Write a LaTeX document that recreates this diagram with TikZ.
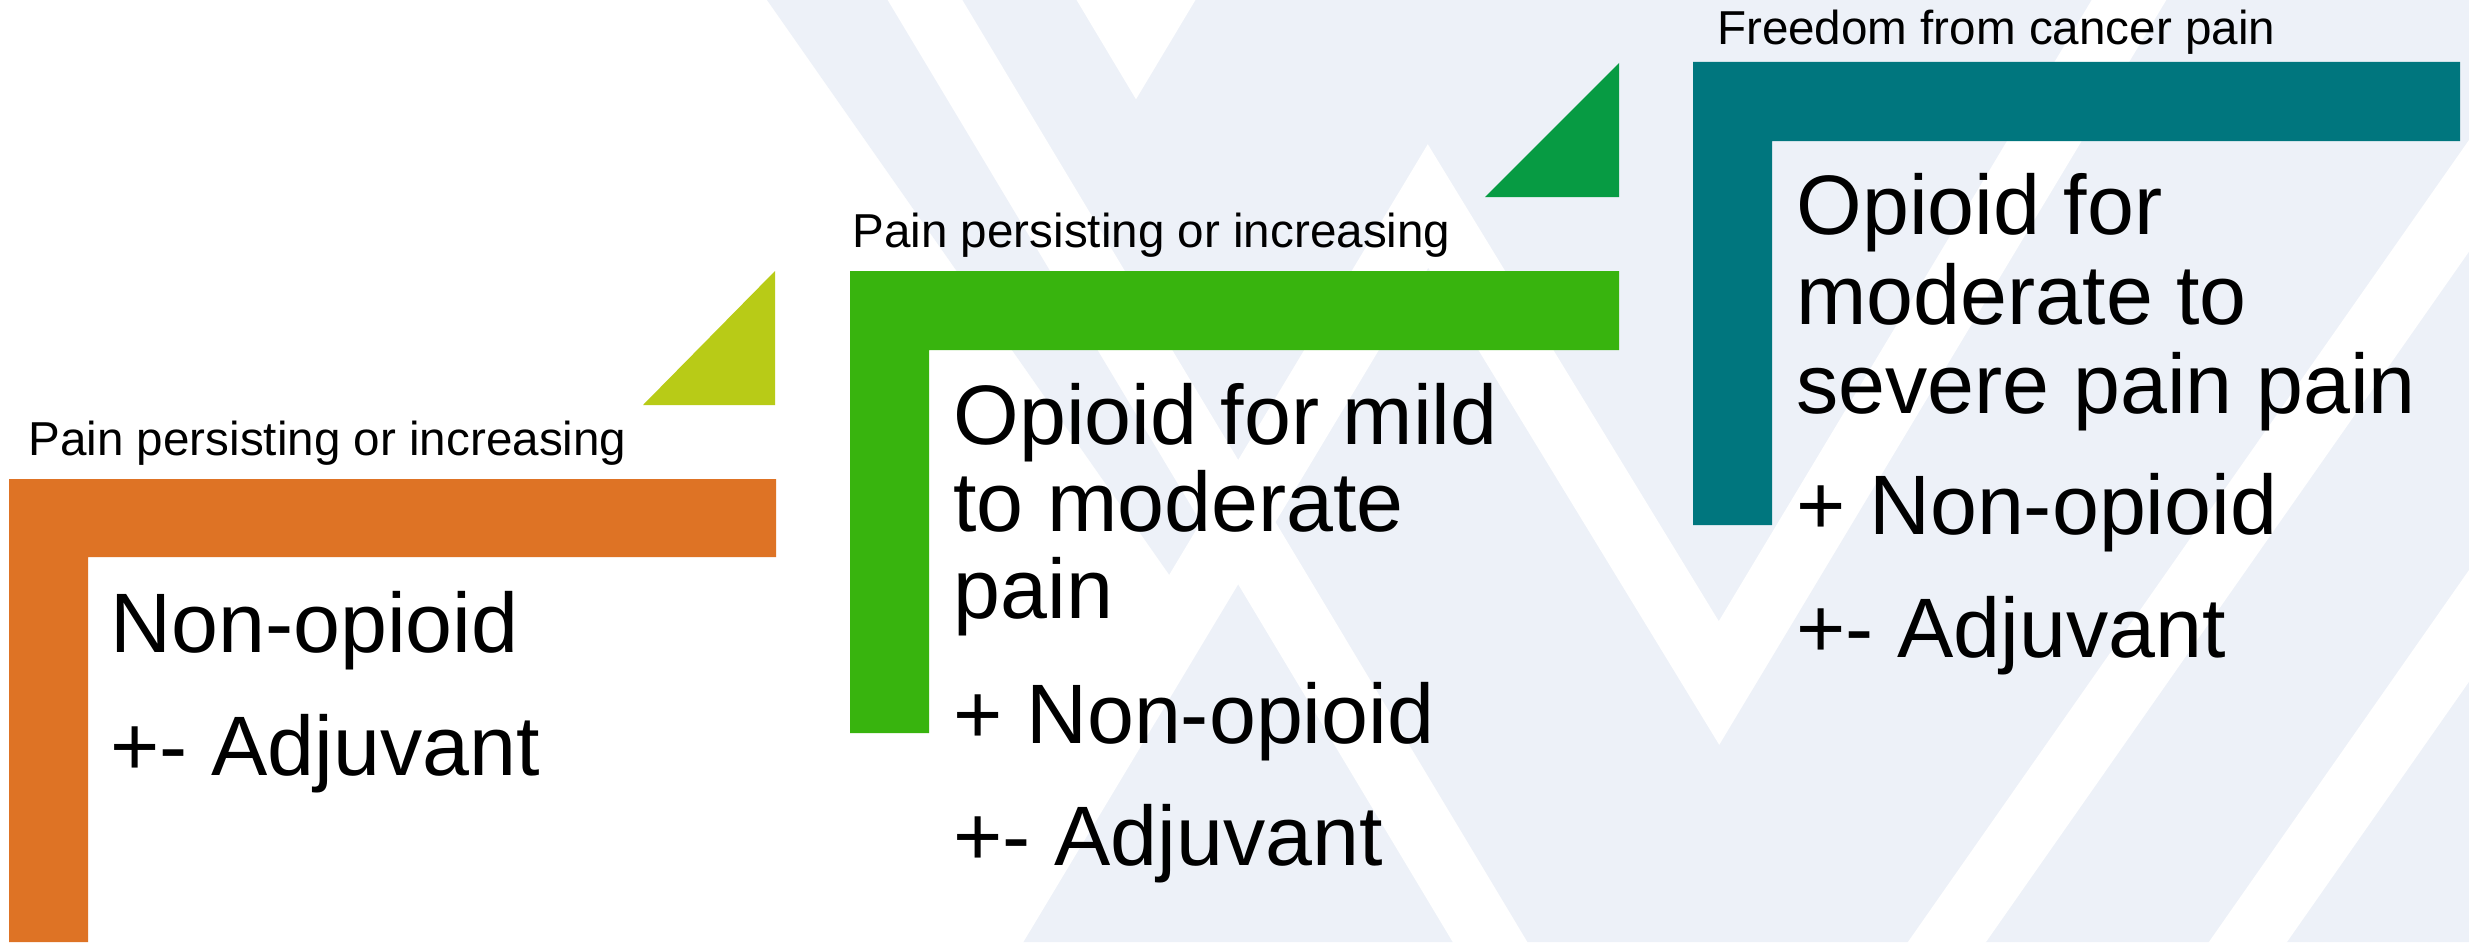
\documentclass[tikz,border=0pt]{standalone}
\usepackage{fontspec}
\setmainfont{Liberation Sans}
\definecolor{stepOrange}{RGB}{222,115,37}
\definecolor{stepLime}{RGB}{184,203,23}
\definecolor{stepGreen}{RGB}{56,180,14}
\definecolor{stepDarkGreen}{RGB}{7,155,67}
\definecolor{stepTeal}{RGB}{0,118,126}
\definecolor{bgLight}{RGB}{237,241,248}
\tikzset{every picture/.style={line width=0.75pt}}
\tikzset{
  bgband/.style={fill=bgLight, draw=none},
  gapline/.style={draw=white, line width=48pt, line join=miter, miter limit=10},
  smalltxt/.style={anchor=base west, inner sep=0pt, font=\fontsize{35.7}{40}\selectfont},
  bigtxt/.style={anchor=base west, inner sep=0pt, font=\fontsize{63.3}{70}\selectfont},
}
\begin{document}
\begin{tikzpicture}[x=0.75pt,y=0.75pt,yscale=-1,xscale=1]
\useasboundingbox (0,0) rectangle (2469,942);

\begin{scope}
\clip (0,0) rectangle (2469,942);
\fill[white] (0,0) rectangle (2469,942);
%Shape: Polygon (light background)
\fill[bgband] (767,0) -- (2469,0) -- (2469,942) -- (990,942) -- (1203,623) -- cycle;
%Straight Lines (white gaps)
\draw[gapline] (865,-100) -- (1550,1042);
\draw[gapline] (1054,-100) -- (1136,37) -- (1218,-100);
\draw[gapline] (926,1042) -- (1428,206) -- (1719,683) -- (2189,-100);
\draw[gapline] (1877,1042) -- (2536,100);
\draw[gapline] (2178,1042) -- (2557,500);
\end{scope}

%Shape: Polygon (step 1)
\fill[stepOrange] (9,479) -- (776,479) -- (776,557) -- (88,557) -- (88,942) -- (9,942) -- cycle;
%Shape: Right Triangle
\fill[stepLime] (775,271) -- (775,405) -- (643,405) -- cycle;
%Shape: Polygon (step 2)
\fill[stepGreen] (850,271) -- (1619,271) -- (1619,350) -- (929,350) -- (929,733) -- (850,733) -- cycle;
%Shape: Right Triangle
\fill[stepDarkGreen] (1619,63) -- (1619,197) -- (1485,197) -- cycle;
%Shape: Polygon (step 3)
\fill[stepTeal] (1693,62) -- (2460,62) -- (2460,141) -- (1772,141) -- (1772,525) -- (1693,525) -- cycle;

% Text Node
\node[smalltxt] (lblA) at (28,455.6) {Pain persisting or increasing};
% Text Node
\node[bigtxt] (stepAa) at (110,652.5) {Non-opioid};
% Text Node
\node[bigtxt] (stepAb) at (110,775) {+- Adjuvant};

% Text Node
\node[smalltxt] (lblB) at (852,247.5) {Pain persisting or increasing};
% Text Node
\node[bigtxt] (stepBa) at (953,444.6) {Opioid for mild};
% Text Node
\node[bigtxt] (stepBb) at (953,531.7) {to moderate};
% Text Node
\node[bigtxt] (stepBc) at (953,618.8) {pain};
% Text Node
\node[bigtxt] (stepBd) at (953,743) {+ Non-opioid};
% Text Node
\node[bigtxt] (stepBe) at (953,865) {+- Adjuvant};

% Text Node
\node[smalltxt] (lblC) at (1716.6,45) {Freedom from cancer pain};
% Text Node
\node[bigtxt] (stepCa) at (1796,234.3) {Opioid for};
% Text Node
\node[bigtxt] (stepCb) at (1796,324.4) {moderate to};
% Text Node
\node[bigtxt] (stepCc) at (1796,413.3) {severe pain pain};
% Text Node
\node[bigtxt] (stepCd) at (1796,534.7) {+ Non-opioid};
% Text Node
\node[bigtxt] (stepCe) at (1796,657.9) {+- Adjuvant};

\end{tikzpicture}
\end{document}
